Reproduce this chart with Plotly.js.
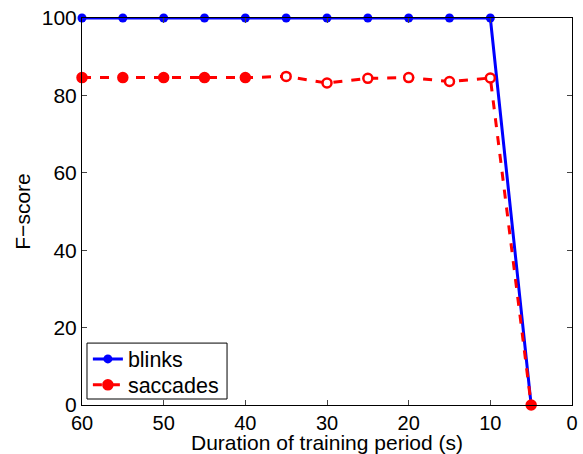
<!DOCTYPE html>
<html><head><meta charset="utf-8">
<script src="https://cdn.plot.ly/plotly-3.0.1.min.js"></script>
<style>body{margin:0;background:#fff}#c{width:583px;height:454px}</style>
</head><body><div id="c"></div>
<script>
const durations = [60, 55, 50, 45, 40, 35, 30, 25, 20, 15, 10, 5];
const blinks = [100, 100, 100, 100, 100, 100, 100, 100, 100, 100, 100, 0];
const saccades = [84.6, 84.6, 84.6, 84.6, 84.6, 84.9, 83.2, 84.4, 84.6, 83.6, 84.5, 0];
const saccadeMarkerFill = ['red','red','red','red','red','white','white','white','white','white','white','red'];
const font = 'Liberation Sans, Arial, Helvetica, sans-serif';
const data = [
  {x: durations, y: blinks, name: 'blinks', type: 'scatter', mode: 'lines+markers', cliponaxis: false,
   legend: 'legend',
   line: {color: 'blue', width: 3}, marker: {color: 'blue', size: 9, symbol: 'circle'}},
  {x: durations, y: saccades, name: 'saccades', type: 'scatter', mode: 'lines+markers', cliponaxis: false,
   legend: 'legend2',
   line: {color: 'red', width: 3, dash: 'dash'},
   marker: {color: saccadeMarkerFill, size: 9, symbol: 'circle', line: {color: 'red', width: 2.5}}}
];
const legendBase = {xanchor: 'left', yanchor: 'middle', bgcolor: 'rgba(0,0,0,0)', borderwidth: 0,
                    font: {size: 21.5}, x: 0.012};
const layout = {
  width: 583, height: 454,
  margin: {l: 82, r: 11, t: 18, b: 49},
  paper_bgcolor: 'white', plot_bgcolor: 'white',
  font: {family: font, size: 21, color: 'black'},
  showlegend: true,
  legend: Object.assign({}, legendBase, {y: 0.119}),
  legend2: Object.assign({}, legendBase, {y: 0.052}),
  shapes: [{type: 'rect', xref: 'paper', yref: 'paper', x0: 0.0102, x1: 0.296, y0: 0.0155, y1: 0.160,
            line: {color: 'black', width: 1}, fillcolor: 'white', layer: 'above'}],
  xaxis: {range: [60, 0], tickvals: [60, 50, 40, 30, 20, 10, 0], ticks: 'inside', ticklen: 5,
          showline: true, linecolor: 'black', linewidth: 1, mirror: 'ticks', showgrid: false, zeroline: false,
          tickfont: {size: 20}, title: {text: 'Duration of training period (s)', font: {size: 21}, standoff: 3}},
  yaxis: {range: [0, 100], tickvals: [0, 20, 40, 60, 80, 100], ticks: 'inside', ticklen: 5,
          showline: true, linecolor: 'black', linewidth: 1, mirror: 'ticks', showgrid: false, zeroline: false,
          tickfont: {size: 21}, title: {text: 'F\u2212score', font: {size: 21}, standoff: 5}}
};
Plotly.newPlot('c', data, layout, {displayModeBar: false, staticPlot: true});
</script></body></html>
